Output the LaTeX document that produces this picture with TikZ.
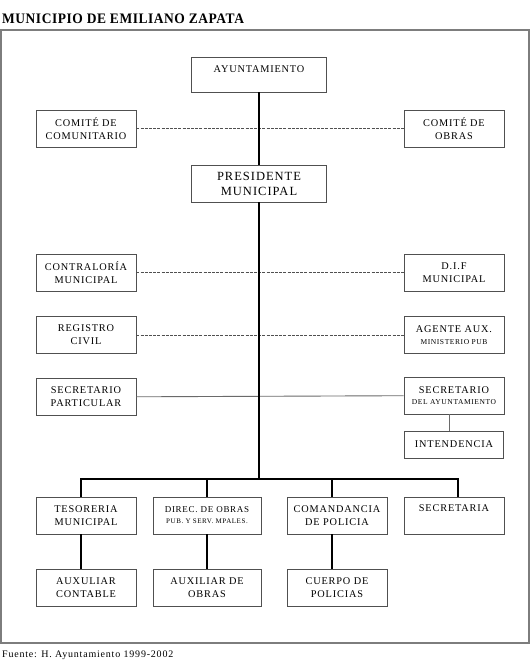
\documentclass[tikz,border=0pt]{standalone}
\usepackage{fontspec}
\setmainfont{Liberation Serif}
\newfontfamily\boxfont[LetterSpace=8]{Liberation Serif}
\newfontfamily\titlefont[LetterSpace=4]{Liberation Serif}
\definecolor{linegray}{RGB}{80,80,80}
\definecolor{framegray}{RGB}{125,125,125}
\tikzset{
  cargo/.style={draw=linegray, line width=0.9pt, minimum width=100, minimum height=37,
    inner sep=1pt, align=center, font=\boxfont\fontsize{10.3}{13}\selectfont},
  mando/.style={line width=2.3pt},
  enlace/.style={line width=1pt, draw=linegray, dash pattern=on 3pt off 1.2pt},
  linea/.style={line width=0.9pt, draw=linegray!85}
}

\begin{document}
\begin{tikzpicture}[x=1pt,y=-1pt]
\newcommand{\chica}{\fontsize{7.5}{8}\selectfont}
\useasboundingbox (0,0) rectangle (531,665);
\draw[framegray, line width=1.3pt] (1,30) rectangle (529,643);
\node[anchor=west, inner sep=0pt, xscale=0.93,
  font=\titlefont\bfseries\fontsize{14.5}{16}\selectfont] (titulo) at (2,19) {MUNICIPIO DE EMILIANO ZAPATA};
\node[anchor=west, inner sep=0pt, font=\boxfont\fontsize{10}{12}\selectfont] (fuente) at (2,655) {Fuente: H. Ayuntamiento 1999-2002};

% cabeza
\node[cargo, minimum width=135, minimum height=35, text depth=11pt] (ayun) at (259,74.5) {AYUNTAMIENTO};
\node[cargo] (comcom) at (86,128.5) {COMITÉ DE\\COMUNITARIO};
\node[cargo] (comobr) at (454,128.5) {COMITÉ DE\\OBRAS};
\node[cargo, minimum width=135, font=\boxfont\fontsize{12.5}{15}\selectfont] (pres) at (259,183.5) {PRESIDENTE\\MUNICIPAL};

% apoyo
\node[cargo] (contra) at (86,272.5) {CONTRALORÍA\\MUNICIPAL};
\node[cargo] (dif) at (454,272.5) {D.I.F\\MUNICIPAL};
\node[cargo] (regis) at (86,335) {REGISTRO\\CIVIL};
\node[cargo] (agente) at (454,335) {AGENTE AUX.\\[-1pt]{\chica MINISTERIO PUB}};
\node[cargo] (secpar) at (86,397) {SECRETARIO\\PARTICULAR};
\node[cargo] (secayu) at (454,395.5) {SECRETARIO\\[-2pt]{\chica DEL AYUNTAMIENTO}};
\node[cargo, minimum width=99, minimum height=27] (inten) at (454,444.5) {INTENDENCIA};

% direcciones
\node[cargo] (teso) at (86,515.5) {TESORERIA\\MUNICIPAL};
\node[cargo, minimum width=108] (direc) at (207,515.5) {{\fontsize{9}{10}\selectfont DIREC. DE OBRAS}\\[-2pt]{\fontsize{7}{8}\selectfont PUB. Y SERV. MPALES.}};
\node[cargo] (coman) at (337,515.5) {COMANDANCIA\\DE POLICIA};
\node[cargo, text depth=15pt] (secre) at (454,515.5) {SECRETARIA};
\node[cargo] (auxcon) at (86,588) {AUXULIAR\\CONTABLE};
\node[cargo, minimum width=108] (auxobr) at (207,588) {AUXILIAR DE\\OBRAS};
\node[cargo] (cuerpo) at (337,588) {CUERPO DE\\POLICIAS};

\draw[enlace] (comcom) -- (comobr);
\draw[enlace] (contra) -- (dif);
\draw[enlace] (regis) -- (agente);
\draw[linea] (secpar) -- (secayu);
\draw[linea] ([xshift=-5]secayu.south) -- ([xshift=-5]inten.north);

\coordinate (bus) at (259,479);
\draw[mando] (ayun) -- (pres);
\draw[mando] (pres) -- (bus);
\draw[mando] ([xshift=-5]teso.north) |- (bus);
\draw[mando] (direc.north) |- (bus);
\draw[mando] ([xshift=-5]coman.north) |- (bus);
\draw[mando] ([xshift=4]secre.north) |- (bus);
\draw[mando] ([xshift=-5]teso.south) -- ([xshift=-5]auxcon.north);
\draw[mando] (direc) -- (auxobr);
\draw[mando] ([xshift=-5]coman.south) -- ([xshift=-5]cuerpo.north);
\end{tikzpicture}
\end{document}
